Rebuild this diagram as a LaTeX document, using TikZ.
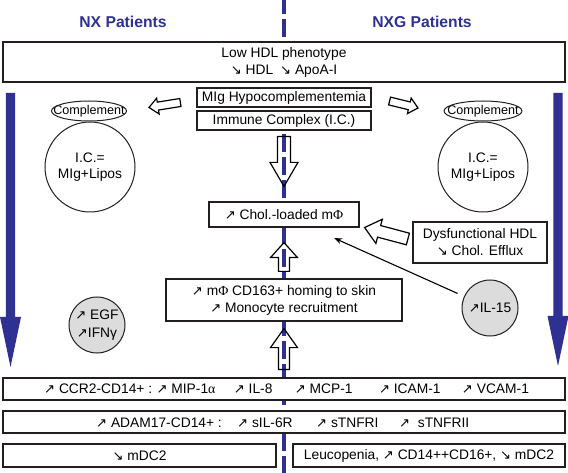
\documentclass[tikz,border=0pt]{standalone}
\usepackage{fontspec}
\setmainfont{Liberation Sans}
\newfontfamily\arrfont{DejaVu Sans}[Scale=0.95]
\newfontfamily\serfont{Liberation Serif}
\usetikzlibrary{calc,shapes.geometric,arrows.meta}
\definecolor{pblue}{RGB}{46,49,146}
\definecolor{lgray}{RGB}{220,220,220}
\definecolor{bord}{RGB}{35,31,32}
\newcommand\ArUp{{\arrfont ↗}}
\newcommand\ArDn{{\arrfont ↘}}
\newcommand\HArrow[6]{%
  \coordinate (#1-#2-h) at ($(#2)!#5!(#1)$);
  \path[#6] ($(#1)!#3!90:(#2)$) -- ($(#1-#2-h)!#3!90:(#2)$) -- ($(#1-#2-h)!#4!90:(#2)$) -- (#2) -- ($(#1-#2-h)!#4!-90:(#2)$) -- ($(#1-#2-h)!#3!-90:(#2)$) -- ($(#1)!#3!-90:(#2)$) -- cycle;}
\begin{document}
\begin{tikzpicture}[x=1pt,y=-1pt,
  font=\fontsize{13.8}{17}\selectfont,
  box/.style={draw=bord, line width=1.2pt, fill=white, inner sep=0pt, align=center},
  lbl/.style={inner sep=0pt, anchor=base west},
  hollow/.style={draw=black, line width=1.2pt, line join=miter},
  bluearr/.style={fill=pblue},
  ptitle/.style={text=pblue, font=\fontsize{15.7}{18}\selectfont\bfseries},
  bigcirc/.style={circle, draw=bord, line width=1pt, minimum size=90pt, inner sep=0pt, align=center, font=\fontsize{13.8}{15.5}\selectfont},
  graycirc/.style={circle, draw=bord, fill=lgray, line width=1pt, minimum size=56pt, inner sep=0pt, align=center, font=\fontsize{13.8}{18}\selectfont},
  comp/.style={inner sep=0pt, font=\fontsize{12.6}{14}\selectfont},
  compring/.style={draw=bord, line width=1pt}]
\useasboundingbox (0,0) rectangle (568,473);
% central dashed divider
\draw[pblue, line width=4pt, dash pattern=on 18pt off 5pt, dash phase=4pt] (284,0) coordinate (ctop) -- (284,473) coordinate (cbot);
% titles
\node[ptitle] (nx) at (123,22) {NX Patients};
\node[ptitle] (nxg) at (422,22) {NXG Patients};
% boxes
\node[box, minimum width=562pt, minimum height=40pt] (top) at (284,62) {Low HDL phenotype\\\ArDn\ HDL\hspace{7pt}\ArDn\ ApoA-I};
\node[box, minimum width=174pt, minimum height=19pt] (mig) at (284,97.5) {MIg Hypocomplementemia};
\node[box, minimum width=174pt, minimum height=19pt] (ic) at (284,120.5) {Immune Complex (I.C.)};
\node[box, minimum width=150pt, minimum height=25pt] (chol) at (284,214.5) {\ArUp\ Chol.-loaded m{\serfont Φ}};
\node[box, minimum width=236pt, minimum height=42pt] (mphi) at (284,300) {\ArUp\ m{\serfont Φ} CD163+ homing to skin\\\ArUp\ Monocyte recruitment};
\node[box, minimum width=134pt, minimum height=41pt] (dys) at (480,242.5) {Dysfunctional HDL\\\ArDn\ Chol. Efflux};
\node[box, minimum width=562pt, minimum height=22pt] (ccr) at (284,389) {};
\node[box, minimum width=562pt, minimum height=22pt] (adam) at (284,422) {};
\node[box, minimum width=273pt, minimum height=23pt] (mdcl) at (139.5,455.5) {\ArDn\ mDC2};
\node[box, minimum width=272pt, minimum height=23pt] (mdcr) at (429,455.5) {Leucopenia, \ArUp\ CD14++CD16+, \ArDn\ mDC2};
% CCR2 line
\node[lbl] (c1) at (44,393.5) {\ArUp\ CCR2-CD14+ :};
\node[lbl] (c2) at ($(c1.base east)+(4,0)$) {\ArUp\ MIP-1{\serfont α}};
\node[lbl] (c3) at ($(c2.base east)+(18,0)$) {\ArUp\ IL-8};
\node[lbl] (c4) at ($(c3.base east)+(22,0)$) {\ArUp\ MCP-1};
\node[lbl] (c5) at ($(c4.base east)+(26,0)$) {\ArUp\ ICAM-1};
\node[lbl] (c6) at ($(c5.base east)+(21,0)$) {\ArUp\ VCAM-1};
% ADAM17 line
\node[lbl] (a1) at (96,427) {\ArUp\ ADAM17-CD14+ :};
\node[lbl] (a2) at (237,427) {\ArUp\ sIL-6R};
\node[lbl] (a3) at (316,427) {\ArUp\ sTNFRI};
\node[lbl] (a4) at (399,427) {\ArUp\ \ sTNFRII};
% complement ellipses and circles
\node[comp] (compL) at (89,111) {Complement};
\draw[compring] (compL.center) ellipse [x radius=37.5pt, y radius=10pt];
\node[comp] (compR) at (483,111) {Complement};
\draw[compring] (compR.center) ellipse [x radius=39pt, y radius=10pt];
\node[bigcirc] (circL) at (90,167) {I.C.=\\MIg+Lipos};
\node[bigcirc] (circR) at (483,167) {I.C.=\\MIg+Lipos};
\node[graycirc] (egf) at (97,325) {\ArUp\ EGF\\\ArUp IFNγ};
\node[graycirc] (il15) at (490,308) {\ArUp IL-15};
% thin arrow IL-15 -> Chol
\coordinate (iltip) at (334,238);
\draw[line width=1.1pt, shorten <=7pt, -{Stealth[length=8pt,width=6pt]}] (il15) -- (iltip);
% hollow arrows
\coordinate (d1t) at ($(ic.south)+(0,6)$);
\coordinate (d1h) at ($(chol.north)+(0,-15)$);
\HArrow{d1t}{d1h}{6.5pt}{14pt}{24pt}{hollow}
\coordinate (u1t) at ($(mphi.north)+(0,-7)$);
\coordinate (u1h) at ($(chol.south)+(0,15)$);
\HArrow{u1t}{u1h}{5.5pt}{13.5pt}{15pt}{hollow}
\coordinate (u2t) at ($(ccr.north)+(0,-8)$);
\coordinate (u2h) at ($(mphi.south)+(0,7)$);
\HArrow{u2t}{u2h}{5.5pt}{13.5pt}{19pt}{hollow}
\coordinate (lt) at ($(mig.west)+(-16,5)$);
\coordinate (lh) at (149,107.5);
\HArrow{lt}{lh}{4pt}{8pt}{9pt}{hollow}
\coordinate (rt) at ($(mig.east)+(18,3.5)$);
\coordinate (rh) at (418,108);
\HArrow{rt}{rh}{4pt}{8pt}{9pt}{hollow}
\coordinate (dt) at ($(dys.west)+(-4.5,-3.5)$);
\coordinate (dh) at ($(chol.east)+(5,13)$);
\HArrow{dt}{dh}{6pt}{12.5pt}{15pt}{hollow}
% big blue arrows
\coordinate (bl1) at (10.5,93);
\coordinate (bl2) at (10.5,367);
\HArrow{bl1}{bl2}{4.7pt}{10.5pt}{50pt}{bluearr}
\coordinate (br1) at (558,93);
\coordinate (br2) at (558,366);
\HArrow{br1}{br2}{4.7pt}{10.5pt}{50pt}{bluearr}
\end{tikzpicture}
\end{document}
